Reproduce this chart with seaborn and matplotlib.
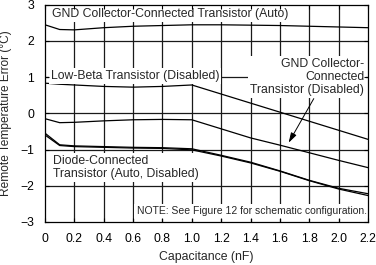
import matplotlib
matplotlib.use("Agg")
import matplotlib.pyplot as plt
import seaborn as sns
import numpy as np
import pandas as pd

# ---- data ----
capacitance = [0, 0.1, 0.2, 0.4, 0.6, 0.8, 1.0, 1.2, 1.4, 1.6, 1.8, 2.0, 2.2]
gnd_auto = [2.44, 2.31, 2.30, 2.36, 2.40, 2.42, 2.44, 2.44, 2.43, 2.42, 2.40, 2.38, 2.36]
low_beta_disabled = [0.83, 0.80, 0.78, 0.74, 0.72, 0.74, 0.78, 0.53, 0.28, 0.03, -0.22, -0.47, -0.72]
gnd_disabled = [-0.15, -0.26, -0.25, -0.21, -0.18, -0.17, -0.18, -0.43, -0.68, -0.88, -1.09, -1.30, -1.50]
diode_auto = [-0.55, -0.87, -0.90, -0.92, -0.94, -0.95, -0.98, -1.16, -1.35, -1.59, -1.85, -2.07, -2.22]
diode_disabled = [-0.60, -0.89, -0.92, -0.94, -0.96, -0.97, -1.01, -1.18, -1.37, -1.60, -1.86, -2.09, -2.27]

x_ticks = [0, 0.2, 0.4, 0.6, 0.8, 1.0, 1.2, 1.4, 1.6, 1.8, 2.0, 2.2]
x_tick_labels = ["0", "0.2", "0.4", "0.6", "0.8", "1.0", "1.2", "1.4", "1.6", "1.8", "2.0", "2.2"]
y_ticks = [-3, -2, -1, 0, 1, 2, 3]

series = {
    "GND Collector-Connected Transistor (Auto)": gnd_auto,
    "Low-Beta Transistor (Disabled)": low_beta_disabled,
    "GND Collector-Connected Transistor (Disabled)": gnd_disabled,
    "Diode-Connected Transistor (Auto)": diode_auto,
    "Diode-Connected Transistor (Disabled)": diode_disabled,
}
df = pd.concat(
    [pd.DataFrame({"cap": capacitance, "err": v, "series": k}) for k, v in series.items()],
    ignore_index=True,
)

sns.set_theme(style="ticks")
plt.rcParams["font.family"] = ["Liberation Sans", "DejaVu Sans"]

FS = 8.8

fig = plt.figure(figsize=(3.76, 2.65), dpi=100)
ax = fig.add_axes([45 / 376, 1 - 222 / 265, 323 / 376, 217.5 / 265])

for name in series:
    sns.lineplot(data=df[df["series"] == name], x="cap", y="err", color="black",
                 linewidth=0.9, ax=ax, legend=False, zorder=2)

ax.set_xlim(0, 2.2)
ax.set_ylim(-3, 3)

# manual grid (below text boxes)
ax.vlines(x_ticks[1:-1], -3, 3, colors="#1a1a1a", linewidth=0.9, zorder=1)
ax.hlines(y_ticks[1:-1], 0, 2.2, colors="#1a1a1a", linewidth=0.9, zorder=1)

ax.set_xticks(x_ticks)
ax.set_xticklabels(x_tick_labels)
ax.set_yticks(y_ticks)
ax.tick_params(direction="in", length=3, width=0.8, top=True, right=True,
               labelsize=FS, pad=8, colors="black")
ax.xaxis.set_zorder(4)
ax.yaxis.set_zorder(4)
for s in ax.spines.values():
    s.set_linewidth(0.9)
    s.set_color("black")
    s.set_zorder(5)

ax.set_xlabel("Capacitance (nF)", fontsize=FS, labelpad=4.5)
ax.set_ylabel("Remote Temperature Error (°C)", fontsize=FS * 0.97, labelpad=6)

box = dict(facecolor="white", edgecolor="none", pad=1.5)
ax.text(0.05, 2.74, "GND Collector-Connected Transistor (Auto)", fontsize=FS,
        ha="left", va="center", bbox=box, zorder=3)
ax.text(0.04, 1.03, "Low-Beta Transistor (Disabled)", fontsize=FS,
        ha="left", va="center", bbox=box, zorder=3)
ax.text(2.175, 1.0, "GND Collector-\nConnected\nTransistor (Disabled)", fontsize=FS,
        ha="right", va="center", multialignment="right", bbox=box, zorder=3,
        linespacing=1.15)
ax.text(0.055, -1.5, "Diode-Connected\nTransistor (Auto, Disabled)", fontsize=FS,
        ha="left", va="center", bbox=box, zorder=3, linespacing=1.15)
ax.text(2.19, -2.71, "NOTE: See Figure 12 for schematic configuration.", fontsize=7.5,
        ha="right", va="center", bbox=box, zorder=3)

ax.annotate("", xy=(1.65, -0.88), xytext=(1.84, 0.47),
            arrowprops=dict(arrowstyle="-|>,head_length=0.5,head_width=0.15",
                            color="black", lw=0.7), zorder=3)

fig.savefig("out.png", dpi=100)
